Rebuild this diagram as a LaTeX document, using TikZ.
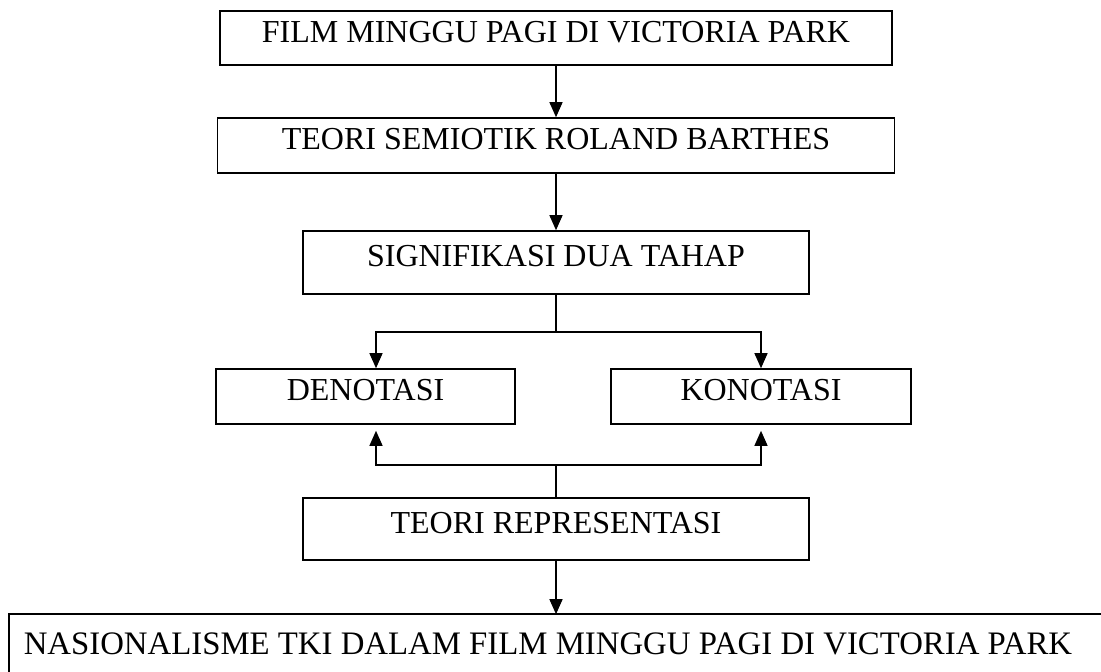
\documentclass[tikz,border=0pt]{standalone}
\usepackage{fontspec}
\setmainfont{Liberation Serif}
\usepackage{tikz}
\usetikzlibrary{arrows.meta, positioning, calc}

\tikzset{
  box/.style={draw, line width=0.8pt, inner sep=0pt,
    font=\fontsize{16pt}{19pt}\selectfont,
    text height=0.7em, text depth=0.3em},
  arr/.style={line width=0.65pt, -{Triangle[length=7.5pt,width=6.5pt]}},
  lin/.style={line width=0.65pt}
}

\begin{document}
\begin{tikzpicture}[x=0.5pt,y=-0.5pt]

% canvas (pixel grid, y downwards)
\useasboundingbox (0,0) rectangle (1101,671);
\clip (0,0) rectangle (1101,671);

% ------------------------
% Main column
% ------------------------
\node[box, minimum width=336pt, minimum height=27pt]
  (film) at (556,38) {FILM MINGGU PAGI DI VICTORIA PARK};
\node[box, minimum width=338.5pt, minimum height=27.5pt]
  (teori) at (556,145.5) {TEORI SEMIOTIK ROLAND BARTHES};
\node[box, minimum width=253pt, minimum height=31.5pt]
  (signif) at (556,262.5) {SIGNIFIKASI DUA TAHAP};

% ------------------------
% Two stages
% ------------------------
\node[box, minimum width=149.5pt, minimum height=27.5pt]
  (deno) at (365.5,396.5) {DENOTASI};
\node[box, minimum width=150pt, minimum height=27.5pt]
  (kono) at (761,396.5) {KONOTASI};

% ------------------------
% Representation and result
% ------------------------
\node[box, minimum width=253pt, minimum height=31pt]
  (repr) at (556,529) {TEORI REPRESENTASI};
\node[box, draw=none, font=\fontsize{16.4pt}{19pt}\selectfont,
  minimum width=538pt, minimum height=35pt]
  (nasional) at (548,650) {NASIONALISME TKI DALAM FILM MINGGU PAGI DI VICTORIA PARK};
\draw[line width=0.8pt] (nasional.north west) rectangle ++(1100,80);

% branch points
\coordinate (split) at (556,332);
\coordinate (join) at (556,465);

% ------------------------
% Connectors
% ------------------------
\draw[arr] (film) -- (teori);
\draw[arr] (teori) -- (signif);

\draw[lin] (signif.south) -- (split);
\draw[arr] (split) -| ([xshift=5.25pt]deno.north);
\draw[arr] (split) -| (kono.north);

\draw[lin] (repr.north) -- (join);
\draw[arr, shorten >=3pt] (join) -| ([xshift=5.25pt]deno.south);
\draw[arr, shorten >=3pt] (join) -| (kono.south);

\draw[arr] (repr.south) -- (repr.south |- nasional.north);

\end{tikzpicture}
\end{document}
